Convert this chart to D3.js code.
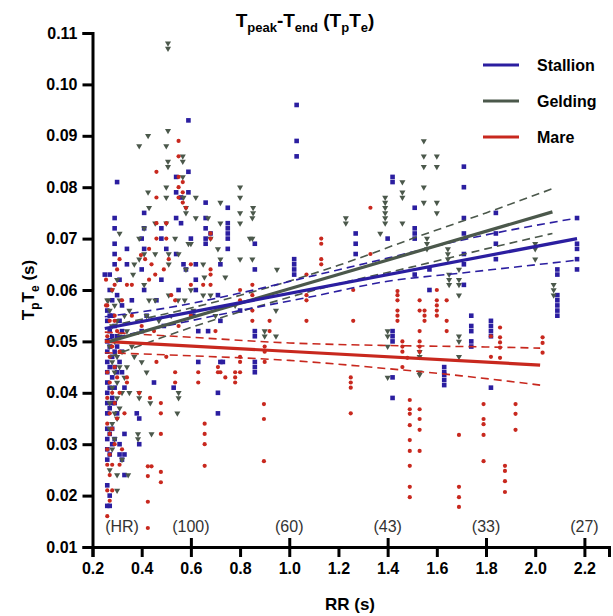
<!DOCTYPE html>
<html>
<head>
<meta charset="utf-8">
<script src="https://cdn.jsdelivr.net/npm/d3@7"></script>
<style>
  body { margin: 0; background: #fff; }
  text { font-family: "Liberation Sans", Arial, sans-serif; }
</style>
</head>
<body>
<div id="chart"></div>
<script>
// scatter values: [RR (s), TpTe (s)]
var stallion = [
  [0.26,0.018],[0.27,0.018],[0.26,0.022],[0.27,0.020],[0.26,0.027],[0.27,0.028],[0.26,0.029],[0.28,0.030],[0.26,0.031],[0.27,0.032],
  [0.26,0.033],[0.28,0.033],[0.29,0.031],[0.26,0.036],[0.27,0.037],[0.26,0.038],[0.28,0.038],[0.29,0.038],[0.26,0.040],[0.27,0.041],
  [0.29,0.041],[0.26,0.042],[0.28,0.043],[0.26,0.044],[0.27,0.045],[0.29,0.045],[0.26,0.046],[0.28,0.047],[0.26,0.048],[0.27,0.049],
  [0.30,0.049],[0.26,0.050],[0.28,0.051],[0.27,0.052],[0.29,0.053],[0.26,0.054],[0.31,0.054],[0.27,0.055],[0.26,0.056],[0.28,0.058],
  [0.32,0.057],[0.25,0.063],[0.27,0.063],[0.29,0.065],[0.29,0.067],[0.29,0.069],[0.29,0.072],[0.29,0.074],[0.30,0.081],
  [0.31,0.030],[0.31,0.028],[0.32,0.027],[0.30,0.036],[0.32,0.044],[0.33,0.041],[0.33,0.032],[0.33,0.028],[0.33,0.024],[0.32,0.048],
  [0.30,0.044],[0.31,0.046],[0.29,0.048],[0.30,0.051],[0.32,0.052],[0.28,0.055],[0.30,0.059],[0.27,0.060],[0.31,0.062],[0.28,0.039],
  [0.34,0.068],[0.34,0.065],[0.36,0.058],[0.38,0.036],[0.39,0.035],[0.39,0.030],[0.40,0.070],[0.41,0.068],[0.41,0.075],[0.41,0.072],
  [0.40,0.064],[0.41,0.060],[0.40,0.052],[0.42,0.055],[0.45,0.042],[0.46,0.058],[0.48,0.072],[0.48,0.070],[0.48,0.062],[0.50,0.068],
  [0.49,0.053],[0.53,0.041],[0.54,0.074],[0.54,0.079],[0.54,0.082],[0.54,0.067],[0.55,0.060],[0.56,0.078],[0.56,0.073],[0.57,0.065],
  [0.58,0.064],[0.59,0.093],[0.59,0.083],[0.59,0.079],[0.60,0.070],[0.61,0.055],[0.62,0.065],[0.62,0.062],[0.62,0.060],[0.63,0.046],
  [0.63,0.052],[0.66,0.077],[0.66,0.074],[0.66,0.072],[0.66,0.070],[0.66,0.069],[0.68,0.071],[0.67,0.052],[0.71,0.059],[0.71,0.040],
  [0.71,0.036],[0.72,0.065],[0.72,0.054],[0.72,0.046],[0.73,0.046],[0.75,0.076],[0.75,0.073],[0.75,0.072],[0.75,0.071],[0.75,0.070],
  [0.75,0.068],[0.80,0.056],[0.86,0.069],[0.86,0.064],[0.86,0.052],[0.86,0.051],[0.86,0.046],[0.86,0.045],[0.86,0.044],
  [1.03,0.096],[1.03,0.089],[1.03,0.086],[1.02,0.066],[1.02,0.065],[1.02,0.064],[1.02,0.063],
  [1.27,0.071],[1.27,0.069],[1.27,0.067],
  [1.40,0.070],[1.42,0.082],[1.42,0.081],[1.42,0.052],[1.42,0.051],[1.42,0.050],[1.42,0.043],[1.42,0.039],
  [1.51,0.076],[1.51,0.072],[1.51,0.071],[1.51,0.070],[1.51,0.063],[1.57,0.064],[1.57,0.060],
  [1.63,0.045],[1.63,0.044],[1.63,0.0435],[1.63,0.0425],[1.63,0.0415],
  [1.71,0.084],[1.71,0.080],[1.71,0.074],[1.71,0.071],[1.71,0.067],[1.71,0.065],[1.71,0.061],
  [1.74,0.055],[1.74,0.053],[1.74,0.052],[1.74,0.050],[1.74,0.049],
  [1.82,0.054],[1.82,0.053],[1.82,0.052],[1.82,0.051],[1.82,0.041],
  [1.84,0.075],[1.84,0.071],[1.84,0.069],[1.84,0.066],
  [2.09,0.064],[2.09,0.063],[2.09,0.059],[2.09,0.058],[2.09,0.057],[2.09,0.056],[2.09,0.055],
  [2.17,0.074],[2.17,0.069],[2.17,0.068],[2.17,0.066],[2.17,0.064]
];

var gelding = [
  [0.30,0.021],[0.30,0.024],[0.32,0.027],[0.345,0.024],[0.27,0.025],[0.28,0.029],[0.29,0.031],[0.27,0.033],[0.28,0.034],[0.30,0.035],
  [0.29,0.036],[0.31,0.037],[0.27,0.038],[0.30,0.039],[0.32,0.040],[0.28,0.041],[0.30,0.042],[0.33,0.043],[0.29,0.044],[0.31,0.045],
  [0.28,0.046],[0.30,0.047],[0.32,0.048],[0.27,0.049],[0.29,0.050],[0.31,0.051],[0.34,0.052],[0.28,0.053],[0.30,0.054],[0.33,0.055],
  [0.27,0.056],[0.29,0.057],[0.26,0.058],[0.31,0.058],[0.28,0.060],[0.30,0.062],[0.365,0.063],[0.31,0.071],
  [0.385,0.031],[0.385,0.032],[0.44,0.032],[0.35,0.040],[0.39,0.040],[0.39,0.039],[0.435,0.038],[0.545,0.036],[0.55,0.040],[0.55,0.039],
  [0.34,0.045],[0.37,0.047],[0.36,0.049],[0.40,0.046],[0.42,0.044],
  [0.39,0.088],[0.426,0.090],[0.507,0.091],[0.50,0.088],[0.507,0.108],[0.507,0.107],[0.507,0.085],[0.507,0.084],[0.567,0.086],[0.567,0.085],
  [0.567,0.082],[0.50,0.080],[0.426,0.079],[0.50,0.078],[0.57,0.078],[0.62,0.078],[0.72,0.077],[0.80,0.080],[0.80,0.078],[0.853,0.076],
  [0.853,0.075],[0.80,0.075],[0.43,0.076],[0.455,0.073],[0.50,0.073],[0.58,0.076],[0.58,0.075],[0.62,0.074],[0.67,0.074],[0.72,0.073],
  [0.80,0.073],[0.39,0.070],[0.41,0.072],[0.536,0.070],[0.59,0.069],[0.60,0.069],[0.68,0.070],[0.71,0.068],[0.72,0.066],[0.80,0.066],
  [0.84,0.070],[0.37,0.065],[0.39,0.066],[0.41,0.067],[0.455,0.067],[0.51,0.067],[0.51,0.065],[0.55,0.067],[0.58,0.064],[0.65,0.065],
  [0.655,0.0625],[0.74,0.0625],[0.41,0.061],[0.43,0.058],[0.455,0.058],[0.51,0.059],[0.548,0.058],[0.575,0.058],[0.60,0.060],[0.65,0.059],
  [0.68,0.059],[0.264,0.058],[0.35,0.056],[0.42,0.055],[0.47,0.054],[0.52,0.055],[0.61,0.056],[0.70,0.055],[0.78,0.057],
  [0.85,0.074],[0.85,0.070],[0.85,0.066],[0.95,0.064],[0.946,0.056],[0.90,0.052],[0.90,0.051],[0.946,0.051],[1.23,0.074],[1.23,0.073],
  [1.39,0.078],[1.39,0.077],[1.39,0.076],[1.39,0.075],[1.39,0.074],[1.39,0.073],[1.37,0.071],[1.40,0.052],[1.40,0.051],[1.40,0.049],
  [1.40,0.043],[1.46,0.081],[1.46,0.079],[1.46,0.078],[1.46,0.073],[1.547,0.089],[1.547,0.086],[1.547,0.084],[1.547,0.080],[1.547,0.077],
  [1.60,0.086],[1.60,0.084],[1.60,0.077],[1.60,0.075],[1.53,0.048],[1.53,0.047],[1.53,0.044],[1.53,0.0435],[1.56,0.070],[1.56,0.069],
  [1.56,0.068],[1.645,0.068],[1.645,0.067],[1.645,0.066],[1.65,0.063],[1.65,0.062],[1.65,0.061],[1.69,0.064],[1.69,0.062],[1.69,0.061],
  [1.69,0.059],[1.69,0.051],[1.69,0.050],[1.69,0.047],[2.0,0.069],[2.0,0.068],[2.0,0.066],[2.075,0.061],[2.075,0.060],[2.075,0.059]
];

var mare = [
  [0.26,0.016],[0.27,0.019],[0.26,0.021],[0.28,0.021],[0.27,0.024],[0.26,0.026],[0.28,0.026],[0.27,0.028],[0.26,0.029],[0.29,0.030],
  [0.27,0.032],[0.28,0.033],[0.26,0.034],[0.30,0.035],[0.27,0.036],[0.29,0.038],[0.26,0.039],[0.28,0.040],[0.31,0.040],[0.27,0.042],
  [0.30,0.043],[0.26,0.044],[0.29,0.045],[0.27,0.047],[0.31,0.048],[0.28,0.049],[0.26,0.051],[0.30,0.052],[0.27,0.054],[0.29,0.055],
  [0.26,0.057],[0.32,0.058],[0.28,0.060],[0.255,0.062],[0.29,0.061],[0.31,0.066],
  [0.31,0.026],[0.32,0.029],[0.33,0.036],[0.34,0.043],[0.34,0.042],[0.39,0.040],[0.434,0.039],[0.478,0.038],[0.478,0.036],[0.478,0.032],
  [0.425,0.0257],[0.44,0.0257],[0.425,0.0238],[0.478,0.0246],[0.478,0.0226],[0.425,0.0188],[0.425,0.0137],[0.46,0.046],[0.50,0.047],
  [0.536,0.044],[0.536,0.042],[0.63,0.044],[0.63,0.042],[0.656,0.034],[0.656,0.032],[0.656,0.030],[0.656,0.0258],[0.71,0.045],[0.71,0.044],
  [0.72,0.044],[0.74,0.043],[0.78,0.044],[0.78,0.043],[0.78,0.042],
  [0.55,0.089],[0.55,0.086],[0.46,0.083],[0.55,0.082],[0.567,0.081],[0.55,0.080],[0.567,0.079],[0.55,0.078],[0.46,0.078],[0.567,0.077],
  [0.58,0.076],[0.46,0.073],[0.50,0.073],[0.46,0.070],[0.50,0.070],[0.43,0.068],[0.397,0.0668],[0.414,0.066],[0.30,0.064],[0.44,0.065],
  [0.455,0.063],[0.49,0.064],[0.51,0.066],[0.60,0.065],[0.68,0.071],[0.68,0.070],[0.68,0.064],[0.68,0.063],[0.34,0.061],[0.36,0.061],
  [0.43,0.062],[0.52,0.059],[0.536,0.058],[0.60,0.061],[0.65,0.061],[0.68,0.061],[0.255,0.057],[0.29,0.054],[0.36,0.055],[0.40,0.053],
  [0.45,0.052],[0.55,0.053],[0.60,0.055],[0.70,0.052],
  [0.85,0.061],[0.85,0.059],[0.85,0.056],[0.85,0.054],[0.92,0.054],[0.92,0.052],[0.80,0.060],[0.80,0.058],[0.80,0.047],[0.80,0.046],
  [0.80,0.044],[0.90,0.049],[0.90,0.048],[0.90,0.046],[0.897,0.0378],[0.897,0.0349],[0.897,0.0267],[1.07,0.063],[1.07,0.059],[1.07,0.058],
  [1.07,0.054],[1.13,0.070],[1.13,0.069],[1.13,0.066],[1.13,0.065],[1.26,0.060],[1.26,0.054],[1.25,0.043],[1.25,0.042],[1.25,0.041],
  [1.25,0.036],[1.33,0.067],[1.33,0.076],[1.44,0.0598],[1.44,0.059],[1.44,0.058],[1.44,0.056],[1.44,0.055],[1.44,0.054],[1.46,0.050],
  [1.46,0.049],[1.46,0.048],[1.46,0.045],[1.48,0.0468],[1.49,0.0386],[1.49,0.0368],[1.49,0.0359],[1.49,0.0337],[1.49,0.0308],[1.49,0.0287],
  [1.49,0.0258],[1.49,0.0217],[1.49,0.0197],[1.53,0.058],[1.53,0.056],[1.53,0.052],[1.53,0.050],[1.53,0.049],[1.53,0.048],[1.53,0.0368],
  [1.53,0.0349],[1.53,0.0328],[1.53,0.0287],[1.55,0.056],[1.55,0.055],[1.55,0.054],[1.60,0.060],[1.60,0.058],[1.60,0.057],[1.60,0.056],
  [1.60,0.055],[1.64,0.058],[1.64,0.054],[1.64,0.052],[1.69,0.0318],[1.69,0.0217],[1.69,0.0197],[1.69,0.0178],[1.79,0.0378],[1.79,0.0349],
  [1.79,0.0339],[1.79,0.0318],[1.79,0.0267],[1.82,0.051],[1.82,0.047],[1.857,0.0527],[1.857,0.0508],[1.857,0.0498],[1.857,0.0488],[1.857,0.0468],
  [1.877,0.0258],[1.877,0.0248],[1.877,0.0228],[1.877,0.0207],[1.92,0.0378],[1.92,0.0359],[1.92,0.0328],[2.03,0.0508],[2.03,0.0497],[2.03,0.0478]
];

// regression lines and their dashed bands
var stallionFit = [[0.25,0.0525],[2.17,0.0700]];
var stallionUpper = [[0.25,0.0548],[0.5,0.0565],[0.8,0.0594],[1.1,0.0628],[1.4,0.0662],[1.7,0.0697],[2.17,0.0740]];
var stallionLower = [[0.25,0.0503],[0.5,0.0530],[0.8,0.0560],[1.1,0.0588],[1.4,0.0617],[1.7,0.0633],[2.17,0.0658]];

var geldingFit = [[0.27,0.0500],[2.07,0.0752]];
var geldingUpper = [[0.27,0.0530],[0.6,0.0565],[0.9,0.0603],[1.2,0.0648],[1.5,0.0700],[1.8,0.0750],[2.07,0.0797]];
var geldingLower = [[0.27,0.0470],[0.6,0.0527],[0.9,0.0572],[1.2,0.0612],[1.5,0.0645],[1.8,0.0680],[2.07,0.0710]];

var mareFit = [[0.25,0.0500],[2.02,0.0454]];
var mareUpper = [[0.25,0.0518],[0.6,0.0508],[1.0,0.0497],[1.4,0.0492],[1.7,0.0490],[2.02,0.0487]];
var mareLower = [[0.25,0.0478],[0.6,0.0472],[1.0,0.0463],[1.4,0.0447],[1.7,0.0433],[2.02,0.0415]];

var xTicks = [0.2, 0.4, 0.6, 0.8, 1.0, 1.2, 1.4, 1.6, 1.8, 2.0, 2.2];
var yTicks = [0.01, 0.02, 0.03, 0.04, 0.05, 0.06, 0.07, 0.08, 0.09, 0.10, 0.11];
var hrTicks = [0.6, 1.0, 1.4, 1.8, 2.2];
var hrLabels = ["(HR)", "(100)", "(60)", "(43)", "(33)", "(27)"];
var hrPositions = [0.32, 0.6, 1.0, 1.4, 1.8, 2.2];
var seriesNames = ["Stallion", "Gelding", "Mare"];

var colors = { Stallion: "#2b1ea0", Gelding: "#4b584b", Mare: "#c8281e" };

var svgWidth = 613;
var svgHeight = 616;

var svg = d3.select("#chart")
  .append("svg")
  .attr("width", svgWidth)
  .attr("height", svgHeight);

var xScale = d3.scaleLinear().domain([0.2, 2.3]).range([92.5, 609]);
var yScale = d3.scaleLinear().domain([0.01, 0.11]).range([547, 33]);

// points
var plot = svg.append("g");

plot.selectAll("rect.stallion")
  .data(stallion)
  .enter()
  .append("rect")
  .attr("class", "stallion")
  .attr("x", d => xScale(d[0]) - 2.3)
  .attr("y", d => yScale(d[1]) - 2.3)
  .attr("width", 4.6)
  .attr("height", 4.6)
  .attr("fill", colors.Stallion);

var tri = d3.symbol().type(d3.symbolTriangle).size(16);
plot.selectAll("path.gelding")
  .data(gelding)
  .enter()
  .append("path")
  .attr("class", "gelding")
  .attr("d", tri)
  .attr("transform", d => `translate(${xScale(d[0])},${yScale(d[1])}) rotate(180)`)
  .attr("fill", colors.Gelding);

plot.selectAll("circle.mare")
  .data(mare)
  .enter()
  .append("circle")
  .attr("class", "mare")
  .attr("cx", d => xScale(d[0]))
  .attr("cy", d => yScale(d[1]))
  .attr("r", 2.1)
  .attr("fill", colors.Mare);

// fits and bands
var line = d3.line().x(d => xScale(d[0])).y(d => yScale(d[1]));
var bandLine = d3.line().x(d => xScale(d[0])).y(d => yScale(d[1])).curve(d3.curveMonotoneX);

var fits = [
  { name: "Mare", fit: mareFit, upper: mareUpper, lower: mareLower },
  { name: "Gelding", fit: geldingFit, upper: geldingUpper, lower: geldingLower },
  { name: "Stallion", fit: stallionFit, upper: stallionUpper, lower: stallionLower }
];

fits.forEach(function(f) {
  [f.upper, f.lower].forEach(function(b) {
    plot.append("path")
      .attr("d", bandLine(b))
      .attr("fill", "none")
      .attr("stroke", colors[f.name])
      .attr("stroke-width", 1.6)
      .attr("stroke-dasharray", "8,5");
  });
});
fits.forEach(function(f) {
  plot.append("path")
    .attr("d", line(f.fit))
    .attr("fill", "none")
    .attr("stroke", colors[f.name])
    .attr("stroke-width", 3.2);
});

// axes
var bottomAxis = d3.axisBottom(xScale)
  .tickValues(xTicks)
  .tickSize(10)
  .tickPadding(6)
  .tickFormat(d3.format(".1f"));

var leftAxis = d3.axisLeft(yScale)
  .tickValues(yTicks)
  .tickSize(10)
  .tickPadding(5)
  .tickFormat(d3.format(".2f"));

svg.append("g")
  .attr("transform", `translate(0, ${yScale(0.01)})`)
  .call(bottomAxis);

svg.append("g")
  .attr("transform", `translate(0, ${yScale(0.01)})`)
  .call(d3.axisTop(xScale).tickValues(hrTicks).tickSize(9).tickFormat(""))
  .select(".domain").remove();

svg.append("g")
  .attr("transform", `translate(${xScale(0.2)}, 0)`)
  .call(leftAxis);

svg.selectAll(".domain").attr("stroke", "#000").attr("stroke-width", 3);
svg.selectAll(".tick line").attr("stroke", "#000").attr("stroke-width", 3);
svg.selectAll(".tick text")
  .attr("fill", "#000")
  .style("font-family", "'Liberation Sans', Arial, sans-serif")
  .style("font-size", "16px")
  .style("font-weight", "bold");

// HR labels above the x axis
svg.append("g")
  .selectAll("text")
  .data(hrLabels)
  .enter()
  .append("text")
  .attr("x", (d, i) => xScale(hrPositions[i]))
  .attr("y", 532)
  .attr("text-anchor", "middle")
  .style("font-size", "16px")
  .attr("fill", "#333")
  .text(d => d);

// title
var title = svg.append("text")
  .attr("x", 305)
  .attr("y", 27)
  .attr("text-anchor", "middle")
  .style("font-size", "19px")
  .style("font-weight", "bold");
title.append("tspan").text("T");
title.append("tspan").attr("dy", 5).style("font-size", "13px").text("peak");
title.append("tspan").attr("dy", -5).text("-T");
title.append("tspan").attr("dy", 5).style("font-size", "13px").text("end");
title.append("tspan").attr("dy", -5).text(" (T");
title.append("tspan").attr("dy", 5).style("font-size", "13px").text("p");
title.append("tspan").attr("dy", -5).text("T");
title.append("tspan").attr("dy", 5).style("font-size", "13px").text("e");
title.append("tspan").attr("dy", -5).text(")");

// y axis label
var yLabel = svg.append("text")
  .attr("transform", "translate(34, 290) rotate(-90)")
  .attr("text-anchor", "middle")
  .style("font-size", "17px")
  .style("font-weight", "bold");
yLabel.append("tspan").text("T");
yLabel.append("tspan").attr("dy", 5).style("font-size", "12px").text("p");
yLabel.append("tspan").attr("dy", -5).text("T");
yLabel.append("tspan").attr("dy", 5).style("font-size", "12px").text("e");
yLabel.append("tspan").attr("dy", -5).text(" (s)");

// x axis label
svg.append("text")
  .attr("x", 350)
  .attr("y", 610)
  .attr("text-anchor", "middle")
  .style("font-size", "17px")
  .style("font-weight", "bold")
  .text("RR (s)");

// legend
var legend = svg.append("g")
  .selectAll("g")
  .data(seriesNames)
  .enter()
  .append("g")
  .attr("transform", (d, i) => `translate(483, ${65 + i * 36})`);

legend.append("line")
  .attr("x1", 0)
  .attr("x2", 36)
  .attr("stroke", d => colors[d])
  .attr("stroke-width", 3.2);

legend.append("text")
  .attr("x", 54)
  .attr("y", 6)
  .style("font-size", "16px")
  .style("font-weight", "bold")
  .text(d => d);
</script>
</body>
</html>
